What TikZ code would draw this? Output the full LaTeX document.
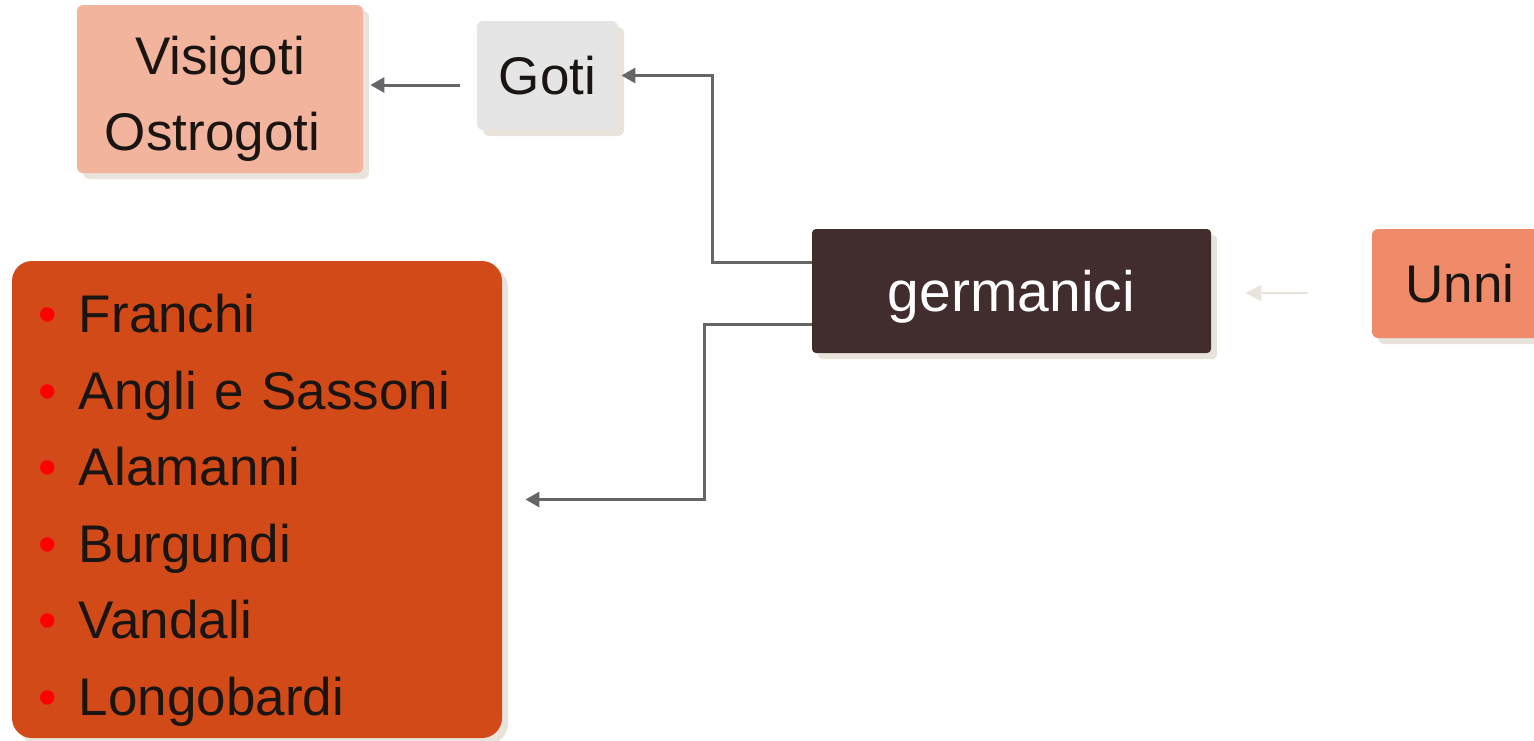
\documentclass[tikz,border=0pt]{standalone}
\usepackage{fontspec}
\setmainfont{Liberation Sans}
\usetikzlibrary{arrows.meta,shadows}
\definecolor{visic}{HTML}{F3B49E}
\definecolor{gotic}{HTML}{E5E5E5}
\definecolor{germc}{HTML}{422D2E}
\definecolor{unnic}{HTML}{EF8B69}
\definecolor{listc}{HTML}{D14A18}
\definecolor{shade}{HTML}{E8E4DC}
\definecolor{linec}{HTML}{666666}
\definecolor{ink}{HTML}{1A1512}
\newcommand\itm{\makebox[20.5pt][l]{\textcolor{red}{•}}}
\tikzset{
  box/.style={rounded corners=3pt, text=ink, inner sep=0pt,
    font=\fontsize{26.5}{38}\selectfont,
    drop shadow={shadow xshift=3pt, shadow yshift=-3pt, fill=shade, opacity=1}},
  conn/.style={draw=linec, line width=1.5pt, -{Triangle[length=7pt,width=7.5pt]}},
}
\begin{document}
\begin{tikzpicture}[x=0.5pt,y=-0.5pt]
  \useasboundingbox (0,0) rectangle (1534,740);
  \node[box, fill=visic, minimum width=143pt, minimum height=84pt, align=center]
    (visi) at (220,89) {\rule{0pt}{29pt}Visigoti\\Ostrogoti\hspace*{7.5pt}};
  \node[box, fill=gotic, minimum width=70.5pt, minimum height=54.5pt]
    (goti) at (547.5,75.5) {Goti};
  \node[box, fill=germc, text=white, rounded corners=2pt, minimum width=199.5pt,
    minimum height=62pt, text depth=0pt, font=\fontsize{28.5}{34}\selectfont]
    (germ) at (1011.5,291) {germanici};
  \node[box, fill=unnic, minimum width=88pt, minimum height=54.5pt]
    (unni) at (1460,283.5) {Unni};
  \node[box, fill=listc, rounded corners=10pt, minimum width=245pt,
    minimum height=238.5pt, inner xsep=13pt, text width=219pt, align=left,
    font=\fontsize{26.5}{38.3}\selectfont]
    (list) at (257,499.5) {\rule{0pt}{30pt}\itm Franchi\\ \itm Angli e Sassoni\\
      \itm Alamanni\\ \itm Burgundi\\ \itm Vandali\\ \itm Longobardi};
  \draw[conn, shorten <=8.5pt, shorten >=3.5pt] (goti.west |- 0,85) -- (visi.east |- 0,85);
  \draw[conn, shorten >=1.5pt] ([yshift=14.5pt]germ.west) -- ++(-99,0) |- (goti.east);
  \draw[conn, shorten >=11.5pt] ([yshift=-16.5pt]germ.west) -- ++(-107,0) |- (list.east);
  \draw[conn, draw=shade, fill=shade, line width=1.3pt, shorten <=32pt, shorten >=17pt,
    -{Triangle[length=8pt,width=8pt]}]
    (unni.west |- 0,293) -- (germ.east |- 0,293);
\end{tikzpicture}
\end{document}
